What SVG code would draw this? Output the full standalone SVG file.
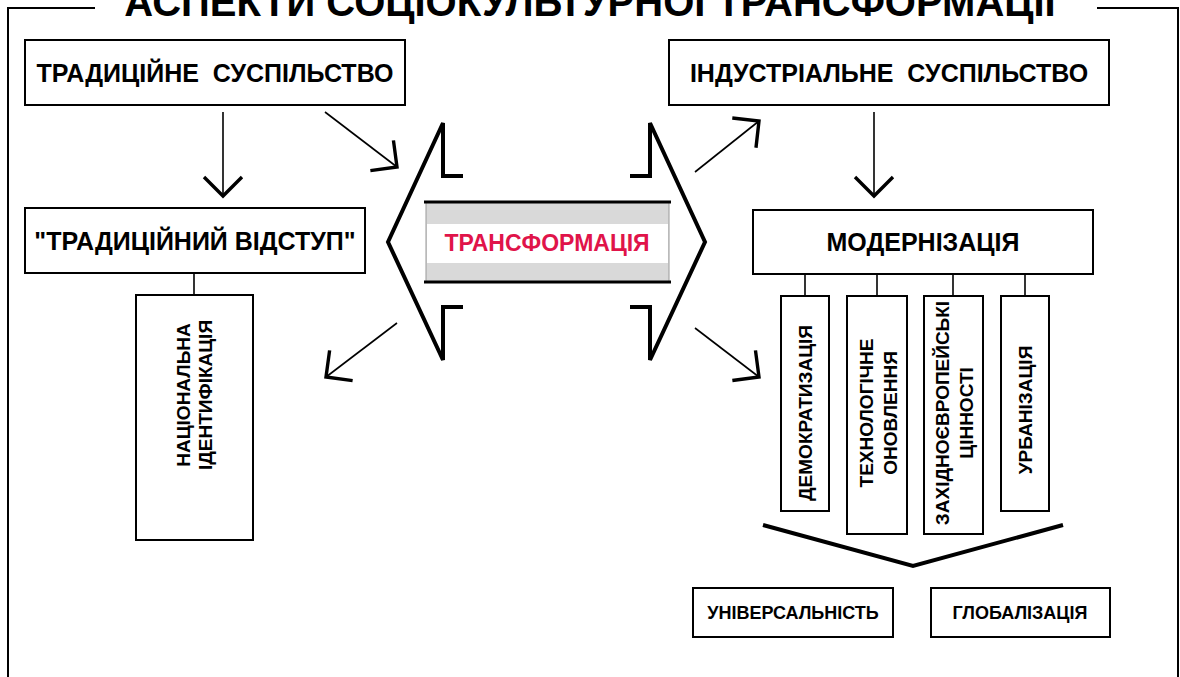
<svg xmlns="http://www.w3.org/2000/svg" width="1180" height="677" viewBox="0 0 1180 677">
<defs>
<style>
.box{fill:#fff;stroke:#000;stroke-width:2}
.t{font-family:"Liberation Sans",Arial,sans-serif;font-weight:bold;fill:#000;text-anchor:middle}
.t25{font-size:25px}
.t18{font-size:18px}
.t19{font-size:19px}
.ln{fill:none;stroke:#000;stroke-width:1.6}
.thick{fill:none;stroke:#000;stroke-width:4;stroke-linejoin:miter}
</style>
<marker id="ah" markerUnits="userSpaceOnUse" viewBox="-22 -22 26 44" refX="0" refY="0" markerWidth="26" markerHeight="44" orient="auto">
<path d="M-19,-19 L0,0 L-19,19" fill="none" stroke="#000" stroke-width="3.4"/>
</marker>
</defs>
<rect width="1180" height="677" fill="#fff"/>
<g id="frame">
<path d="M95,8 H8 V690" fill="none" stroke="#000" stroke-width="2"/>
<path d="M1097,8 H1178 V690" fill="none" stroke="#000" stroke-width="2"/>
<text class="t" x="590" y="16" font-size="40">АСПЕКТИ СОЦІОКУЛЬТУРНОЇ ТРАНСФОРМАЦІЇ</text>
</g>
<g id="connectors">
<line class="ln" x1="223" y1="112" x2="223" y2="196" marker-end="url(#ah)"/>
<line class="ln" x1="325" y1="112" x2="397" y2="167" marker-end="url(#ah)"/>
<line class="ln" x1="397" y1="323" x2="326" y2="377" marker-end="url(#ah)"/>
<line class="ln" x1="695" y1="172" x2="759" y2="121" marker-end="url(#ah)"/>
<line class="ln" x1="874" y1="112" x2="874" y2="196" marker-end="url(#ah)"/>
<line class="ln" x1="695" y1="328" x2="759" y2="377" marker-end="url(#ah)"/>
<line class="ln" x1="194" y1="273" x2="194" y2="295"/>
<line class="ln" x1="805" y1="274" x2="805" y2="296"/>
<line class="ln" x1="877" y1="274" x2="877" y2="296"/>
<line class="ln" x1="953" y1="274" x2="953" y2="296"/>
<line class="ln" x1="1025" y1="274" x2="1025" y2="296"/>
<polyline class="thick" points="763,525 913,566 1063,525"/>
</g>
<g id="traditional-society">
<rect class="box" x="25" y="40" width="380" height="65"/>
<text class="t t25" x="215" y="81.5" xml:space="preserve">ТРАДИЦІЙНЕ  СУСПІЛЬСТВО</text>
</g>
<g id="traditional-retreat">
<rect class="box" x="25" y="208" width="340" height="65"/>
<text class="t t25" x="195" y="249.5">"ТРАДИЦІЙНИЙ ВІДСТУП"</text>
</g>
<g id="national-identification">
<rect class="box" x="136" y="295" width="117" height="245"/>
<text class="t t19" transform="translate(194,395) rotate(-90)"><tspan x="0" y="-4.5">НАЦІОНАЛЬНА</tspan><tspan x="0" y="17.5">ІДЕНТИФІКАЦІЯ</tspan></text>
</g>
<g id="transformation">
<path class="thick" d="M463,176 H443 V123 L388,242 L443,360 V307 H463"/>
<path class="thick" d="M630,176 H650 V123 L705,242 L650,360 V307 H630"/>
<rect x="426" y="202" width="243" height="80" fill="#d9d9d9" stroke="#9a9a9a" stroke-width="1"/>
<rect x="427" y="224" width="241" height="39" fill="#fff"/>
<line x1="424" y1="202" x2="671" y2="202" stroke="#000" stroke-width="3"/>
<line x1="424" y1="282" x2="671" y2="282" stroke="#000" stroke-width="3"/>
<text class="t" x="547" y="251" font-size="23" style="fill:#e0144a">ТРАНСФОРМАЦІЯ</text>
</g>
<g id="industrial-society">
<rect class="box" x="669" y="40" width="440" height="65"/>
<text class="t t25" x="889" y="81.5" xml:space="preserve">ІНДУСТРІАЛЬНЕ  СУСПІЛЬСТВО</text>
</g>
<g id="modernization">
<rect class="box" x="753" y="210" width="340" height="64"/>
<text class="t t25" x="923" y="251">МОДЕРНІЗАЦІЯ</text>
</g>
<g id="democratization">
<rect class="box" x="781" y="296" width="48" height="215"/>
<text class="t t19" transform="translate(805,413) rotate(-90)" y="7">ДЕМОКРАТИЗАЦІЯ</text>
</g>
<g id="technological-renewal">
<rect class="box" x="847" y="296" width="60" height="238"/>
<text class="t t19" transform="translate(878,413) rotate(-90)"><tspan x="0" y="-5">ТЕХНОЛОГІЧНЕ</tspan><tspan x="0" y="18.5">ОНОВЛЕННЯ</tspan></text>
</g>
<g id="western-values">
<rect class="box" x="924" y="296" width="59" height="238"/>
<text class="t t19" transform="translate(954,413) rotate(-90)"><tspan x="0" y="-5">ЗАХІДНОЄВРОПЕЙСЬКІ</tspan><tspan x="0" y="18.5">ЦІННОСТІ</tspan></text>
</g>
<g id="urbanization">
<rect class="box" x="1001" y="296" width="48" height="215"/>
<text class="t t19" transform="translate(1025,410) rotate(-90)" y="7">УРБАНІЗАЦІЯ</text>
</g>
<g id="universality">
<rect class="box" x="693" y="588" width="200" height="49"/>
<text class="t t18" x="793" y="619">УНІВЕРСАЛЬНІСТЬ</text>
</g>
<g id="globalization">
<rect class="box" x="931" y="588" width="179" height="49"/>
<text class="t t18" x="1020" y="619">ГЛОБАЛІЗАЦІЯ</text>
</g>
</svg>
